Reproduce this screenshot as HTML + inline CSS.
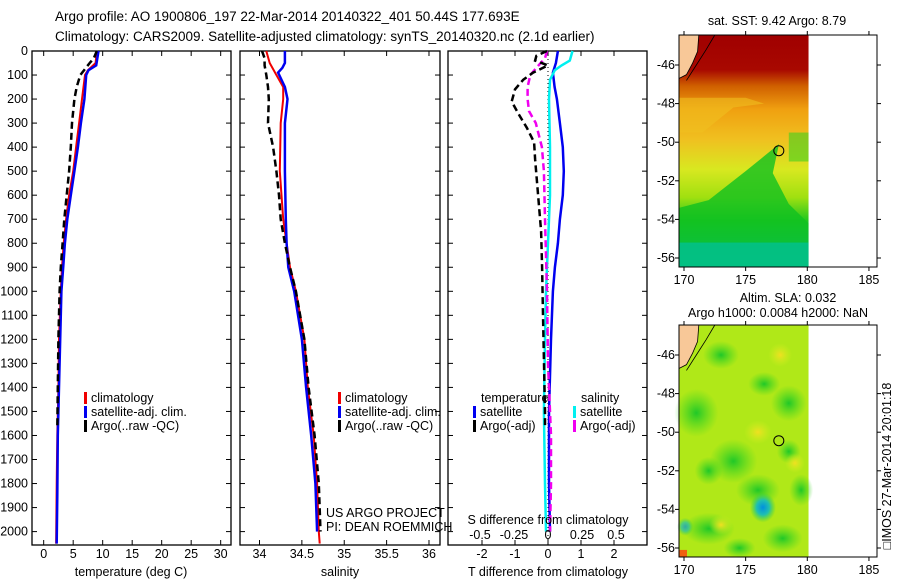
<!DOCTYPE html>
<html><head><meta charset="utf-8"><style>
html,body{margin:0;padding:0;background:#fff;}
svg{display:block;font-family:"Liberation Sans",sans-serif;}
text{font-size:12.5px;fill:#000;}
</style></head><body>
<svg id="chart" width="900" height="580" viewBox="0 0 900 580" xmlns="http://www.w3.org/2000/svg">
<defs>
<linearGradient id="sstGrad" x1="0" y1="0" x2="0" y2="1">
<stop offset="0" stop-color="#a00000"/><stop offset="0.15" stop-color="#a80800"/>
<stop offset="0.22" stop-color="#d06000"/><stop offset="0.32" stop-color="#f0a010"/>
<stop offset="0.45" stop-color="#f0c020"/><stop offset="0.58" stop-color="#d8e820"/>
<stop offset="0.70" stop-color="#a0e010"/><stop offset="0.80" stop-color="#20c820"/>
<stop offset="0.90" stop-color="#00c090"/><stop offset="1" stop-color="#00b8c0"/>
</linearGradient>
<radialGradient id="blueBlob"><stop offset="0" stop-color="#0090e0"/><stop offset="0.5" stop-color="#20c0b0"/><stop offset="1" stop-color="#30d040" stop-opacity="0"/></radialGradient>
<radialGradient id="greenBlob"><stop offset="0" stop-color="#20c828"/><stop offset="1" stop-color="#40d820" stop-opacity="0"/></radialGradient>
<radialGradient id="yellowBlob"><stop offset="0" stop-color="#f0e020"/><stop offset="1" stop-color="#d0f020" stop-opacity="0"/></radialGradient>
</defs>
<g id="titles">
<text x="55" y="21" style="font-size:13.5px">Argo profile: AO 1900806_197 22-Mar-2014 20140322_401 50.44S 177.693E</text>
<text x="55" y="41" style="font-size:13.5px">Climatology: CARS2009. Satellite-adjusted climatology: synTS_20140320.nc (2.1d earlier)</text>
</g>
<g id="plots"></g>
<g id="maps"></g>
</svg>
<script>
// ---------------- data ----------------
const depthTicks = [0,100,200,300,400,500,600,700,800,900,1000,1100,1200,1300,1400,1500,1600,1700,1800,1900,2000];
const tempTicks = [0,5,10,15,20,25,30];
const salTicks = [34,34.5,35,35.5,36];
const salTickLabels = ["34","34.5","35","35.5","36"];
const tdiffTicks = [-2,-1,0,1,2];
const sdiffTicks = [-0.5,-0.25,0,0.25,0.5];
const sdiffTickLabels = ["-0.5","-0.25","0","0.25","0.5"];

const tClimDepth = [0,50,80,100,200,300,400,500,600,700,800,900,1000,1200,1400,1600,1800,2050];
const tClimVal   = [9.0,8.8,7.5,7.0,6.5,6.0,5.5,5.0,4.3,3.8,3.4,3.1,2.9,2.6,2.5,2.3,2.2,2.1];
const tSatDepth  = [0,60,80,100,200,300,400,500,600,700,800,900,1000,1200,1400,1600,1850,2050];
const tSatVal    = [9.3,8.9,7.6,7.2,6.9,6.3,5.8,5.2,4.6,4.0,3.6,3.3,3.0,2.8,2.6,2.4,2.3,2.2];
const tArgoDepth = [0,30,50,100,150,200,300,400,500,600,700,800,900,1000,1200,1400,1570];
const tArgoVal   = [9.0,8.5,7.8,6.2,5.6,5.2,4.8,4.6,4.3,3.9,3.5,3.2,2.9,2.7,2.5,2.4,2.3];

const sClimDepth = [0,50,100,150,200,300,500,700,800,900,1000,1200,1400,1600,1800,2000,2050];
const sClimVal   = [34.08,34.12,34.2,34.28,34.28,34.25,34.24,34.28,34.32,34.36,34.43,34.53,34.57,34.64,34.68,34.70,34.71];
const sSatDepth  = [0,50,70,90,150,200,300,500,700,800,900,1000,1200,1400,1600,1800,2000];
const sSatVal    = [34.3,34.3,34.27,34.22,34.3,34.33,34.3,34.3,34.31,34.32,34.34,34.41,34.5,34.55,34.61,34.66,34.68];
const sArgoDepth = [0,30,60,100,150,200,300,400,500,600,700,800,900,1000,1200,1400,1600,1800,2000];
const sArgoVal   = [34.03,34.06,34.06,34.08,34.1,34.11,34.1,34.16,34.2,34.23,34.25,34.3,34.36,34.43,34.53,34.58,34.65,34.7,34.72];

const dTSatDepth = [0,50,90,150,200,300,400,500,600,700,800,900,1000,1200,1500,1800,2000];
const dTSatVal   = [0.3,0.24,0.15,0.2,0.27,0.36,0.45,0.48,0.45,0.36,0.3,0.21,0.15,0.09,0.03,0.03,0.06];
const dTArgoDepth = [0,20,40,60,90,120,160,210,260,320,380,450,550,650,750,900,1100,1300,1500,1570];
const dTArgoVal   = [-0.03,-0.35,-0.39,0,-0.45,-0.75,-1.0,-1.1,-0.9,-0.64,-0.42,-0.39,-0.33,-0.27,-0.21,-0.18,-0.15,-0.12,-0.09,-0.09];
const dSSatDepth = [0,40,60,80,120,200,400,600,800,1000,1200,1500,1800,2000];
const dSSatVal   = [0.18,0.16,0.1,0.05,0.015,0.007,0.015,0.015,0,-0.015,-0.022,-0.03,-0.022,-0.015];
const dSArgoDepth = [0,30,60,100,150,200,250,300,400,500,700,1000,1300,1600,1800,2000];
const dSArgoVal   = [-0.007,-0.022,-0.07,-0.13,-0.15,-0.15,-0.14,-0.09,-0.045,-0.03,-0.022,-0.007,0,0.022,0.022,0.015];

const mapLonTicks = [170,175,180,185];
const mapLatTicks = [-46,-48,-50,-52,-54,-56];
const argoLon = 177.69, argoLat = -50.44;

// ---------------- helpers ----------------
const NS = "http://www.w3.org/2000/svg";
function mk(tag, attrs, parent, txt){
  const e = document.createElementNS(NS, tag);
  for (const k in attrs) e.setAttribute(k, attrs[k]);
  if (txt !== undefined) e.textContent = txt;
  parent.appendChild(e);
  return e;
}
const plots = document.getElementById('plots');
const TOP = 51, BOT = 545;
const yD = d => TOP + d * 0.2403;

function panel(name, x0, x1, xmin, xmax){
  const g = mk('g', {}, plots);
  
  
  const r = mk('rect', {x:x0, y:TOP, width:x1-x0, height:BOT-TOP, fill:'none', stroke:'#000', 'stroke-width':1.3}, g);
  
  
  const sx = v => x0 + (v - xmin) / (xmax - xmin) * (x1 - x0);
  depthTicks.forEach(d => {
    const y = yD(d);
    mk('line', {x1:x0, x2:x0+5, y1:y, y2:y, stroke:'#000'}, g);
    mk('line', {x1:x1-5, x2:x1, y1:y, y2:y, stroke:'#000'}, g);
  });
  return {g, sx};
}
function xTicks(p, ticks, labels, yLab, x0, top){
  ticks.forEach((t, i) => {
    const x = p.sx(t);
    mk('line', {x1:x, x2:x, y1:BOT, y2:BOT-5, stroke:'#000'}, p.g);
    if (top) mk('line', {x1:x, x2:x, y1:TOP, y2:TOP+5, stroke:'#000'}, p.g);
    const tl = mk('text', {x:x, y:yLab, 'text-anchor':'middle'}, p.g, labels ? labels[i] : String(t));
    
    
  });
}
function series(p, sxf, depths, vals, color, width, dash, name){
  const pts = depths.map((d, i) => sxf(vals[i]).toFixed(1) + ',' + yD(d).toFixed(1)).join(' ');
  const l = mk('polyline', {points:pts, fill:'none', stroke:color, 'stroke-width':width, 'stroke-dasharray':dash || 'none'}, p.g);
  
  
}
function legendRow(g, xm, y, color, label){
  mk('rect', {x:xm, y:y-10, width:3, height:12, fill:color}, g);
  const t = mk('text', {x:xm+7, y:y}, g, label);
  
  
}

// depth labels
const dl = mk('g', {}, plots);


depthTicks.forEach(d => {
  const t = mk('text', {x:28, y:yD(d)+4, 'text-anchor':'end'}, dl, String(d));
  
  
});

// panel 1 temperature
const p1 = panel('temperature-panel', 32, 231, -1.98, 31.75);
xTicks(p1, tempTicks, null, 558, 32, true);
series(p1, p1.sx, tClimDepth, tClimVal, '#f00000', 2, null, 'temp-climatology-line');
series(p1, p1.sx, tSatDepth, tSatVal, '#0000f0', 2.5, null, 'temp-satellite-line');
series(p1, p1.sx, tArgoDepth, tArgoVal, '#000', 2.5, '7,4', 'temp-argo-line');
let t = mk('text', {x:131, y:576, 'text-anchor':'middle'}, p1.g, 'temperature (deg C)');
 
legendRow(p1.g, 84, 402, '#f00000', 'climatology');
legendRow(p1.g, 84, 416, '#0000f0', 'satellite-adj. clim.');
legendRow(p1.g, 84, 430, '#000', 'Argo(..raw -QC)');

// panel 2 salinity
const p2 = panel('salinity-panel', 240, 440, 33.77, 36.13);
xTicks(p2, salTicks, salTickLabels, 558, 240, true);
series(p2, p2.sx, sClimDepth, sClimVal, '#f00000', 2, null, 'sal-climatology-line');
series(p2, p2.sx, sSatDepth, sSatVal, '#0000f0', 2.5, null, 'sal-satellite-line');
series(p2, p2.sx, sArgoDepth, sArgoVal, '#000', 2.5, '7,4', 'sal-argo-line');
t = mk('text', {x:340, y:576, 'text-anchor':'middle'}, p2.g, 'salinity');
 
legendRow(p2.g, 338, 402, '#f00000', 'climatology');
legendRow(p2.g, 338, 416, '#0000f0', 'satellite-adj. clim.');
legendRow(p2.g, 338, 430, '#000', 'Argo(..raw -QC)');
t = mk('text', {x:326, y:517}, p2.g, 'US ARGO PROJECT');
 
t = mk('text', {x:326, y:531}, p2.g, 'PI: DEAN ROEMMICH');
 

// panel 3 differences
const p3 = panel('difference-panel', 448, 647, -3.03, 3.0);
const sS = v => 548 + v * 136;
xTicks(p3, tdiffTicks, null, 558, 448, true);
mk('line', {x1:p3.sx(0), x2:p3.sx(0), y1:TOP, y2:BOT, stroke:'#000', 'stroke-dasharray':'1,3'}, p3.g);
series(p3, p3.sx, dTSatDepth, dTSatVal, '#0000f0', 2.5, null, 'tdiff-satellite-line');
series(p3, sS, dSSatDepth, dSSatVal, '#00f0f0', 2.5, null, 'sdiff-satellite-line');
series(p3, sS, dSArgoDepth, dSArgoVal, '#f000f0', 2.5, '7,4', 'sdiff-argo-line');
series(p3, p3.sx, dTArgoDepth, dTArgoVal, '#000', 2.5, '7,4', 'tdiff-argo-line');
sdiffTicks.forEach((v, i) => {
  const tt = mk('text', {x:sS(v), y:539, 'text-anchor':'middle'}, p3.g, sdiffTickLabels[i]);
  
  
});
t = mk('text', {x:548, y:524, 'text-anchor':'middle'}, p3.g, 'S difference from climatology');
 
t = mk('text', {x:548, y:576, 'text-anchor':'middle'}, p3.g, 'T difference from climatology');
 
t = mk('text', {x:481, y:402}, p3.g, 'temperature');
 
t = mk('text', {x:581, y:402}, p3.g, 'salinity');
 
legendRow(p3.g, 473, 416, '#0000f0', 'satellite');
legendRow(p3.g, 473, 430, '#000', 'Argo(-adj)');
legendRow(p3.g, 573, 416, '#00f0f0', 'satellite');
legendRow(p3.g, 573, 430, '#f000f0', 'Argo(-adj)');

// ---------------- maps ----------------
const maps = document.getElementById('maps');
const MX0 = 679, MX1 = 877;
const lonX = lon => 684 + (lon - 170) * 12.33;
function drawMap(name, top, bottom, kind){
  const g = mk('g', {}, maps);
  
  
  const latY = lat => top + 30 + (-46 - lat) * 19.3 ;
  const xr = lonX(180.1);
  if (kind === 'sst') {
    mk('rect', {x:MX0, y:top, width:xr-MX0, height:bottom-top, fill:'url(#sstGrad)'}, g);
    mk('polygon', {points:`${lonX(176.5)},${latY(-48)} ${lonX(174)},${latY(-48.2)} ${lonX(171.5)},${latY(-49.5)} ${MX0},${latY(-49.5)} ${MX0},${latY(-47.7)} ${lonX(175)},${latY(-47.7)}`, fill:'#f0c020', opacity:0.6}, g);
    mk('polygon', {points:`${lonX(177.7)},${latY(-50.1)} ${lonX(175)},${latY(-51.5)} ${lonX(172)},${latY(-53)} ${MX0},${latY(-53.4)} ${MX0},${bottom} ${xr},${bottom} ${xr},${latY(-54.2)} ${lonX(178.5)},${latY(-53.2)} ${lonX(177.2)},${latY(-51.6)}`, fill:'#10c020', opacity:0.8}, g);
    mk('rect', {x:MX0, y:latY(-55.2), width:xr-MX0, height:bottom-latY(-55.2), fill:'#00c0a0', opacity:0.7}, g);
    mk('rect', {x:lonX(178.5), y:latY(-49.5), width:xr-lonX(178.5), height:latY(-51)-latY(-49.5), fill:'#40d020', opacity:0.6}, g);
  } else {
    mk('rect', {x:MX0, y:top, width:xr-MX0, height:bottom-top, fill:'#b0e818'}, g);
    [[171,-49,22,24],[173,-46,18,14],[178.5,-48.5,18,18],[174,-51.5,24,22],[176,-53,22,16],[172,-55,26,16],[179.5,-53,12,16],[178,-55.5,20,14],[174.5,-56,16,10],[176.5,-47.5,16,12],[172,-52,14,14],[178.5,-51,12,12]].forEach(b => {
      mk('ellipse', {cx:lonX(b[0]), cy:latY(b[1]), rx:b[2], ry:b[3], fill:'url(#greenBlob)'}, g);
    });
    [[176,-50,14,12],[179,-51.6,10,10],[173,-54.8,12,10],[177.8,-46,12,12]].forEach(b => {
      mk('ellipse', {cx:lonX(b[0]), cy:latY(b[1]), rx:b[2], ry:b[3], fill:'url(#yellowBlob)'}, g);
    });
    mk('ellipse', {cx:lonX(176.4), cy:latY(-53.9), rx:13, ry:15, fill:'url(#blueBlob)'}, g);
    mk('ellipse', {cx:lonX(170.1), cy:latY(-54.9), rx:8, ry:9, fill:'url(#blueBlob)', opacity:0.7}, g);
    mk('rect', {x:MX0, y:latY(-56.1), width:8, height:bottom-latY(-56.1), fill:'#f06010'}, g);
  }
  // land
  mk('polygon', {points:`${MX0},${top} ${lonX(171.2)},${top} ${lonX(171.1)},${latY(-45.3)} ${lonX(170.7)},${latY(-45.9)} ${lonX(170.2)},${latY(-46.5)} ${MX0},${latY(-46.7)}`, fill:'#f8c898', stroke:'#000', 'stroke-width':0.8}, g);
  mk('polyline', {points:`${lonX(172.5)},${top} ${lonX(171.8)},${latY(-45.2)} ${lonX(171)},${latY(-46)} ${lonX(170.2)},${latY(-46.8)}`, fill:'none', stroke:'#000', 'stroke-width':0.8}, g);
  const frame = mk('rect', {x:MX0, y:top, width:MX1-MX0, height:bottom-top, fill:'none', stroke:'#000', 'stroke-width':1}, g);
  
  
  mapLonTicks.forEach(lon => {
    const x = lonX(lon);
    mk('line', {x1:x, x2:x, y1:top, y2:top-4, stroke:'#000'}, g);
    mk('line', {x1:x, x2:x, y1:bottom, y2:bottom+4, stroke:'#000'}, g);
    const tl = mk('text', {x:x, y:bottom+17, 'text-anchor':'middle'}, g, String(lon));
    
    
  });
  mapLatTicks.forEach(lat => {
    const y = latY(lat);
    mk('line', {x1:MX0, x2:MX0-4, y1:y, y2:y, stroke:'#000'}, g);
    mk('line', {x1:MX1, x2:MX1+4, y1:y, y2:y, stroke:'#000'}, g);
    const tl = mk('text', {x:675, y:y+4, 'text-anchor':'end'}, g, String(lat));
    
    
  });
  const m = mk('circle', {cx:lonX(argoLon), cy:latY(argoLat), r:5, fill:'none', stroke:'#000', 'stroke-width':1}, g);
  
  
  return g;
}
const m1 = drawMap('sst-map', 35, 267, 'sst');
t = mk('text', {x:777, y:25, 'text-anchor':'middle'}, m1, 'sat. SST: 9.42 Argo: 8.79');
 
const m2 = drawMap('sla-map', 325, 557, 'sla');
t = mk('text', {x:788, y:302, 'text-anchor':'middle'}, m2, 'Altim. SLA: 0.032');
 
t = mk('text', {x:778, y:317, 'text-anchor':'middle'}, m2, 'Argo h1000: 0.0084 h2000: NaN');
 
t = mk('text', {x:0, y:0, 'text-anchor':'middle', transform:'translate(891,466) rotate(-90)'}, maps, '\u25A1IMOS 27-Mar-2014 20:01:18');
 
</script>
</body></html>
